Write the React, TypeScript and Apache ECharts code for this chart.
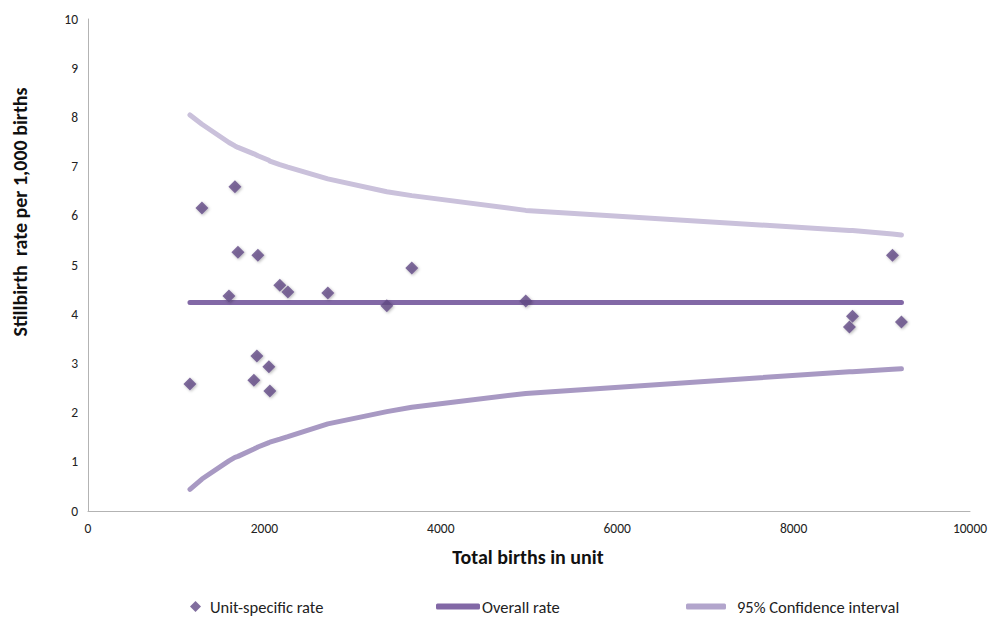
import React, { useEffect, useRef } from "react";
import * as echarts from "echarts";

const births = [1156, 1292, 1598, 1666, 1700, 1881, 1915, 1926, 2051, 2062, 2175, 2266, 2719, 3388, 3671, 4963, 8633, 8668, 9121, 9223];
const unitRate = [2.58, 6.16, 4.37, 6.59, 5.26, 2.66, 3.15, 5.2, 2.93, 2.44, 4.59, 4.45, 4.43, 4.17, 4.94, 4.27, 3.74, 3.96, 5.2, 3.84];
const overallRate = 4.24;
const upperCI = [8.05, 7.86, 7.49, 7.42, 7.39, 7.26, 7.23, 7.22, 7.13, 7.11, 7.04, 6.99, 6.75, 6.49, 6.41, 6.11, 5.7, 5.7, 5.63, 5.61];
const lowerCI = [0.44, 0.65, 1.02, 1.09, 1.11, 1.26, 1.29, 1.3, 1.39, 1.4, 1.46, 1.51, 1.77, 2.02, 2.11, 2.39, 2.83, 2.83, 2.88, 2.89];

const FONT = "Carlito, Calibri, 'Liberation Sans Narrow', 'Liberation Sans', sans-serif";

export default function App() {
  const ref = useRef<HTMLDivElement>(null);
  useEffect(() => {
    if (!ref.current) return;
    const chart = echarts.init(ref.current, null, { renderer: "svg" });
    const scatterData = births.map((b, i) => [b, unitRate[i]]);
    const overallData = births.map((b) => [b, overallRate]);
    const upData = births.map((b, i) => [b, upperCI[i]]);
    const loData = births.map((b, i) => [b, lowerCI[i]]);
    const legendText = { fontFamily: FONT, fontSize: 16.5, lineHeight: 16, color: "#222" };
    chart.setOption({
      animation: false,
      textStyle: { fontFamily: FONT },
      grid: { left: 88, right: 28, top: 19, bottom: 107 },
      xAxis: {
        type: "value",
        min: 0,
        max: 10000,
        interval: 2000,
        axisLine: { show: true, lineStyle: { color: "#b3b3b3", width: 1 } },
        axisTick: { show: false },
        splitLine: { show: false },
        axisLabel: { fontFamily: FONT, fontSize: 13.5, color: "#222", margin: 10, formatter: (v: number) => String(v) },
      },
      yAxis: {
        type: "value",
        min: 0,
        max: 10,
        interval: 1,
        axisLine: { show: true, lineStyle: { color: "#b3b3b3", width: 1 } },
        axisTick: { show: false },
        splitLine: { show: false },
        axisLabel: { fontFamily: FONT, fontSize: 13.5, color: "#222", margin: 10 },
      },
      legend: [
        {
          left: 190, top: 598, padding: 0, itemWidth: 11, itemHeight: 11, itemGap: 0,
          data: [{ name: "Unit-specific rate", icon: "diamond" }],
          textStyle: { ...legendText, padding: [0, 0, 0, 4] },
        },
        {
          left: 436, top: 598, padding: 0, itemWidth: 44, itemHeight: 6,
          data: [{ name: "Overall rate", icon: "roundRect" }],
          textStyle: { ...legendText, padding: [0, 0, 0, -3] },
        },
        {
          left: 686, top: 598, padding: 0, itemWidth: 40, itemHeight: 6,
          data: [{ name: "95% Confidence interval", icon: "roundRect" }],
          textStyle: { ...legendText, padding: [0, 0, 0, 6] },
        },
      ],
      graphic: [
        {
          type: "text",
          x: 20,
          y: 212,
          rotation: Math.PI / 2,
          style: {
            text: "Stillbirth  rate per 1,000 births",
            fontFamily: FONT,
            fontSize: 20,
            fontWeight: "bold",
            fill: "#111",
            align: "center",
            verticalAlign: "middle",
          },
        },
        {
          type: "text",
          x: 528,
          y: 557,
          style: {
            text: "Total births in unit",
            fontFamily: FONT,
            fontSize: 20,
            fontWeight: "bold",
            fill: "#111",
            align: "center",
            verticalAlign: "middle",
          },
        },
      ],
      series: [
        {
          name: "95% Confidence interval",
          type: "line",
          data: upData,
          symbol: "none",
          lineStyle: { color: "#cac1db", width: 5, cap: "round" },
          itemStyle: { color: "#b2a5cc" },
          z: 1,
        },
        {
          name: "95% Confidence interval",
          type: "line",
          data: loData,
          symbol: "none",
          lineStyle: { color: "#a899c3", width: 5, cap: "round" },
          itemStyle: { color: "#b2a5cc" },
          z: 1,
        },
        {
          name: "Overall rate",
          type: "line",
          data: overallData,
          symbol: "none",
          lineStyle: { color: "#8268a6", width: 5, cap: "round" },
          itemStyle: { color: "#8268a6" },
          z: 2,
        },
        {
          name: "Unit-specific rate",
          type: "scatter",
          data: scatterData,
          symbol: "diamond",
          symbolSize: 13,
          itemStyle: {
            color: "#624a86",
            shadowBlur: 3,
            shadowColor: "rgba(0,0,0,0.35)",
            shadowOffsetX: 1,
            shadowOffsetY: 1,
          },
          z: 3,
        },
      ],
    });
    return () => chart.dispose();
  }, []);
  return <div ref={ref} style={{ width: 998, height: 618, position: "absolute", left: 0, top: 0 }} />;
}
